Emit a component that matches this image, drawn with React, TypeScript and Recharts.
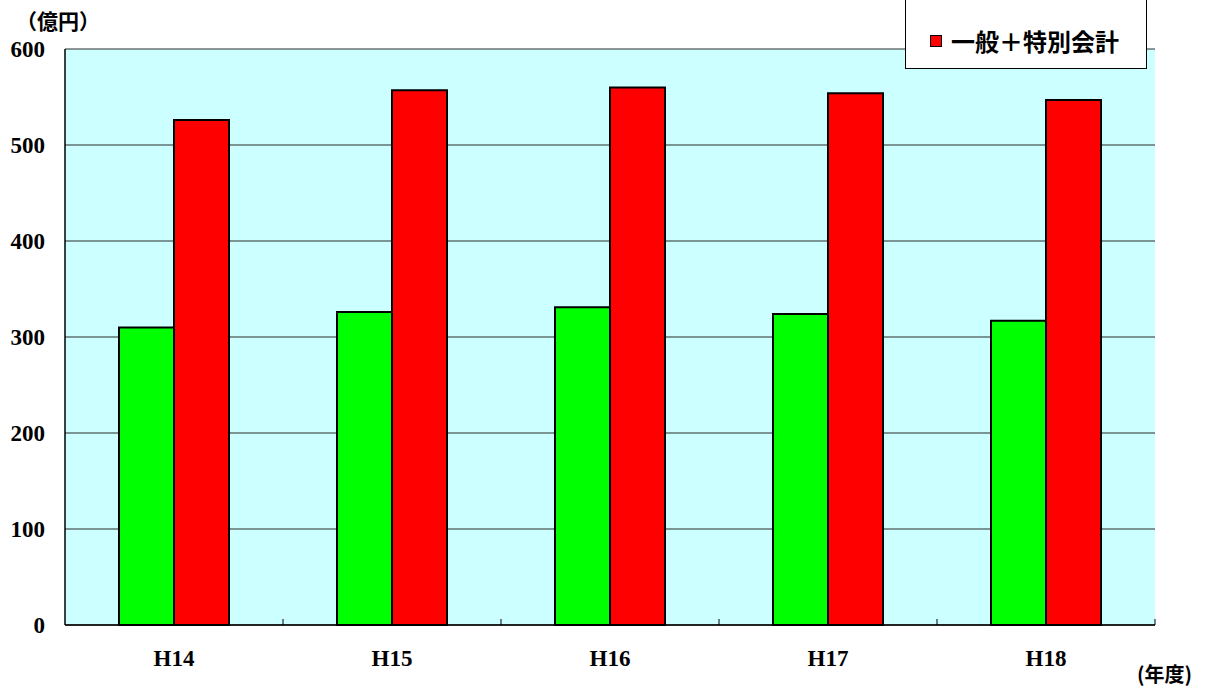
import { BarChart, Bar, XAxis, YAxis, CartesianGrid, Legend } from 'recharts'

// fiscal years (平成)
const years = ['H14', 'H15', 'H16', 'H17', 'H18']
// green bars (no legend entry in the original)
const ippan = [310, 326, 331, 324, 317]
// red bars: 一般＋特別会計
const ippanTokubetsu = [526, 557, 560, 554, 547]
const yTicks = [0, 100, 200, 300, 400, 500, 600]

const data = years.map((y, i) => ({ year: y, ippan: ippan[i], total: ippanTokubetsu[i] }))

const serif = '"Liberation Serif", "DejaVu Serif", serif'
const jp = '"Noto Sans CJK JP", "Noto Sans", sans-serif'

function YearTick(props: any) {
  const { x, y, payload } = props
  const half = payload && payload.offset ? payload.offset : 0
  return (
    <g>
      {/* inward tick at the category boundary */}
      <line x1={x + half} x2={x + half} y1={y} y2={y - 6} stroke="#000" strokeWidth={1} />
      <text x={x} y={y + 33} textAnchor="middle" dominantBaseline="central"
        fontFamily={serif} fontWeight="bold" fontSize={23} fill="#000">
        {payload.value}
      </text>
    </g>
  )
}

function LegendBox(props: any) {
  const items = (props.payload || []).filter((p: any) => p.dataKey === 'total')
  return (
    <div style={{
      position: 'absolute', left: 905, top: -10, width: 242, height: 79,
      background: '#fff', border: '1px solid #000', boxSizing: 'border-box',
    }}>
      {items.map((p: any) => (
        <div key={p.dataKey} style={{ position: 'absolute', left: 24, top: 38, display: 'flex', alignItems: 'center' }}>
          <span style={{ display: 'inline-block', width: 10, height: 10, background: p.color, border: '1px solid #000', marginRight: 9 }} />
          <span style={{ fontFamily: jp, fontWeight: 'bold', fontSize: 24, lineHeight: '24px', color: '#000' }}>{p.value}</span>
        </div>
      ))}
    </div>
  )
}

export default function App() {
  return (
    <div style={{ position: 'absolute', left: 0, top: 0, width: 1205, height: 689, background: '#fff' }}>
      <BarChart width={1205} height={689} data={data} barSize={55} barGap={0}
        margin={{ top: 49, right: 50, left: 0, bottom: 0 }}>
        <CartesianGrid vertical={false} stroke="#2a2a2a" strokeWidth={1} fill="#CCFFFF" fillOpacity={1} />
        <XAxis dataKey="year" height={64} axisLine={{ stroke: '#000', strokeWidth: 1.5 }}
          tickLine={false} tickSize={0} tickMargin={0} tick={<YearTick />} interval={0} />
        <YAxis domain={[0, 600]} ticks={yTicks} width={65} interval={0}
          axisLine={{ stroke: '#000', strokeWidth: 1.5 }} tickLine={false} tickSize={0} tickMargin={20}
          tick={{ fontFamily: serif, fontWeight: 'bold', fontSize: 23, fill: '#000' }} />
        <YAxis yAxisId="frame" orientation="right" width={0} domain={[0, 600]} tick={false}
          tickLine={false} axisLine={{ stroke: '#808080', strokeWidth: 2 }} />
        <Bar dataKey="ippan" name="一般会計" fill="#00FF00" stroke="#000" strokeWidth={2}
          legendType="none" isAnimationActive={false} />
        <Bar dataKey="total" name="一般＋特別会計" fill="#FF0000" stroke="#000" strokeWidth={2}
          isAnimationActive={false} />
        <Legend content={<LegendBox />} wrapperStyle={{ position: 'absolute', left: 0, top: 0, width: 0, height: 0 }} />
      </BarChart>
      <div style={{ position: 'absolute', left: 16, top: 8, fontFamily: jp, fontWeight: 'bold', fontSize: 21, lineHeight: '24px' }}>
        （億円）
      </div>
      <div style={{ position: 'absolute', left: 1137, top: 662, fontFamily: jp, fontWeight: 'bold', fontSize: 20, lineHeight: '24px' }}>
        (年度)
      </div>
    </div>
  )
}
